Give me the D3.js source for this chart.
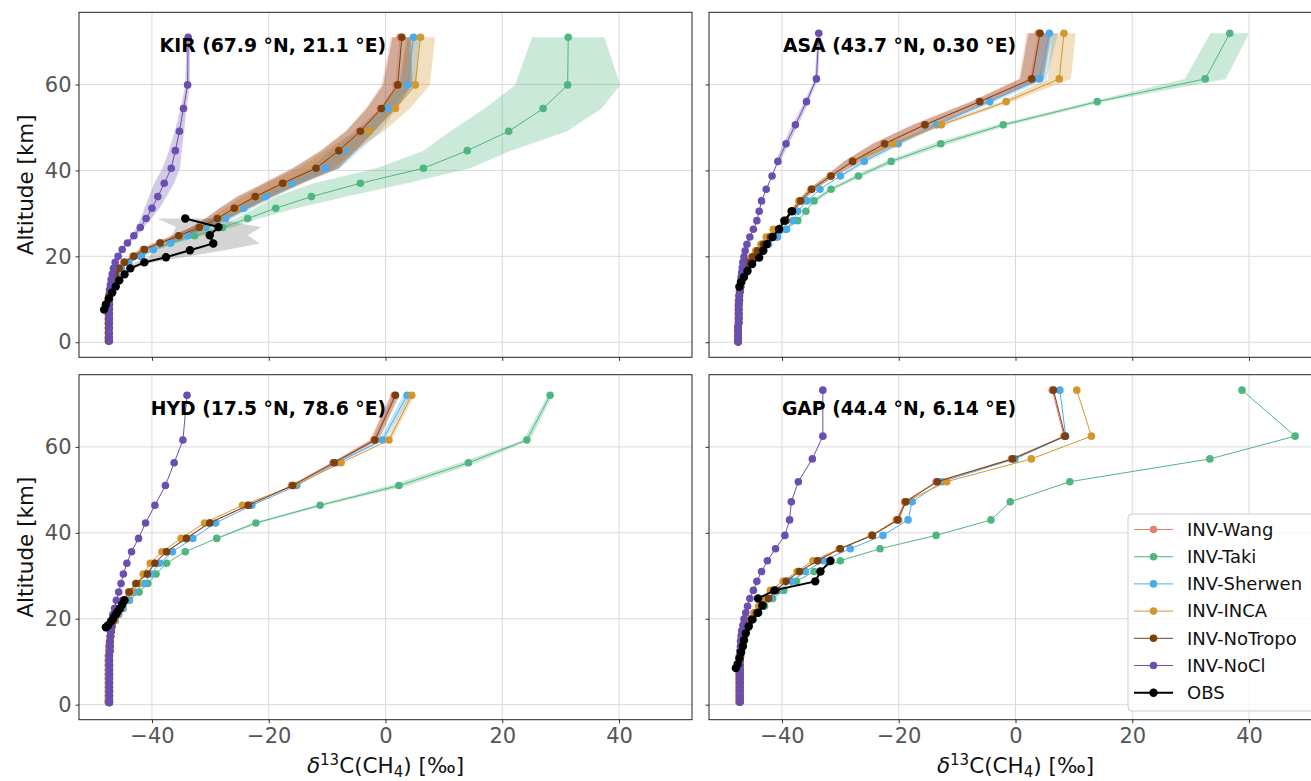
<!DOCTYPE html>
<html>
<head>
<meta charset="utf-8">
<script src="https://cdn.jsdelivr.net/npm/d3@7"></script>
<style>
  body { margin: 0; background: #fff; }
  svg text { font-family: "DejaVu Sans", sans-serif; }
</style>
</head>
<body>
<div class="chart"></div>
<script>
// ---------------- data ----------------
var modelNames = ["INV-Wang", "INV-Taki", "INV-Sherwen", "INV-INCA", "INV-NoTropo", "INV-NoCl"];
var modelColors = ["#e8806e", "#4fb67f", "#4aabef", "#d4962f", "#7a4010", "#6a4eb0"];
var xTicks = [-40, -20, 0, 20, 40];
var yTicks = [0, 20, 40, 60];

// KIR
var kirAlt = [71.0, 59.9, 54.4, 49.1, 44.6, 40.5, 37.0, 33.9, 31.2, 28.8, 26.7, 24.8, 23.1, 21.6, 20.0, 18.6, 17.2, 15.9, 14.6, 13.4, 12.2, 11.0, 9.9, 8.8, 7.7, 6.6, 5.5, 4.4, 3.3, 2.2, 1.1, 0.3];
var kirWang = [2.5, 1.8, -0.9, -4.5, -8.2, -12.1, -17.8, -22.5, -26.0, -28.9, -32.0, -35.5, -38.7, -41.4, -43.2, -44.8, -45.7, -46.4, -46.8, -47.1, -47.3, -47.4, -47.5, -47.5, -47.5, -47.5, -47.5, -47.5, -47.5, -47.5, -47.5, -47.5];
var kirTaki = [31.3, 31.2, 27.0, 21.1, 14.0, 6.5, -4.3, -12.7, -18.8, -23.6, -27.9, -32.7, -36.8, -39.8, -42.0, -44.0, -45.3, -46.1, -46.6, -46.9, -47.1, -47.2, -47.3, -47.3, -47.4, -47.4, -47.4, -47.4, -47.4, -47.4, -47.4, -47.4];
var kirSherwen = [4.8, 3.8, 0.4, -2.8, -7.0, -10.3, -16.0, -20.6, -24.3, -27.4, -30.8, -33.9, -36.9, -39.8, -41.8, -44.0, -45.3, -46.1, -46.6, -46.9, -47.1, -47.2, -47.3, -47.3, -47.4, -47.4, -47.4, -47.4, -47.4, -47.4, -47.4, -47.4];
var kirInca = [6.0, 5.1, 1.7, -2.8, -7.8, -11.9, -17.3, -22.0, -25.5, -28.6, -31.7, -35.2, -38.5, -41.5, -43.2, -44.8, -45.7, -46.3, -46.8, -47.0, -47.2, -47.3, -47.3, -47.4, -47.4, -47.4, -47.4, -47.4, -47.4, -47.4, -47.4, -47.4];
var kirNoTropo = [2.8, 2.1, -0.7, -4.3, -8.0, -11.9, -17.6, -22.3, -25.9, -28.8, -31.9, -35.4, -38.6, -41.3, -43.1, -44.7, -45.6, -46.3, -46.8, -47.0, -47.2, -47.3, -47.3, -47.4, -47.4, -47.4, -47.4, -47.4, -47.4, -47.4, -47.4, -47.4];
var kirNoCl = [-33.8, -33.9, -34.6, -35.3, -36.0, -36.7, -37.9, -39.0, -40.0, -41.0, -42.0, -43.1, -44.2, -45.1, -45.8, -46.3, -46.6, -46.8, -47.0, -47.1, -47.2, -47.2, -47.3, -47.3, -47.3, -47.3, -47.3, -47.3, -47.3, -47.3, -47.3, -47.3];
var kirWangSd = [1.6, 2.5, 2.5, 2.4, 3.0, 3.9, 3.2, 3.0, 2.5, 2.0, 1.5, 1.2, 1.0, 0.8, 0.6, 0.4];
var kirTakiSd = [6.2, 9.0, 10.0, 10.0, 7.5, 8.0, 8.0, 6.0, 3.5, 2.0, 1.5, 1.2, 1.0, 0.8, 0.5];
var kirSherwenSd = [1.0, 1.5, 1.5, 2.0, 2.5, 2.5, 2.0, 1.8, 1.5, 1.2, 1.0, 0.8, 0.6, 0.5];
var kirIncaSd = [2.5, 2.5, 2.5, 2.5, 2.5, 3.0, 3.0, 2.5, 2.0, 1.5, 1.2, 1.0, 0.8, 0.6, 0.4];
var kirNoTropoSd = [1.6, 2.5, 2.5, 2.4, 3.0, 3.9, 3.2, 3.0, 2.5, 2.0, 1.5, 1.2, 1.0, 0.8, 0.6, 0.4];
var kirNoClSd = [0.3, 0.4, 0.5, 0.8, 1.1, 1.5, 1.7, 1.5, 1.3, 0.9, 0.6, 0.5, 0.4];
var kirObsAlt = [28.8, 26.8, 24.9, 23.0, 21.4, 19.8, 18.6, 17.2, 15.8, 14.4, 13.0, 11.6, 10.2, 8.8, 7.6];
var kirObs = [-34.3, -28.6, -30.1, -29.5, -33.5, -37.6, -41.3, -43.7, -44.7, -45.6, -46.2, -46.8, -47.4, -47.9, -48.2];
var kirObsSd = [4.8, 7.3, 6.5, 8.0, 6.0, 3.0, 1.5, 0.8, 0.5, 0.3];

// ASA
var asaAlt = [71.9, 61.3, 56.0, 50.6, 46.2, 42.1, 38.7, 35.6, 32.9, 30.5, 28.3, 26.3, 24.5, 22.8, 21.3, 19.9, 18.6, 17.4, 16.2, 15.1, 14.0, 12.9, 11.8, 10.8, 9.7, 8.7, 7.7, 6.6, 5.6, 4.6, 3.6, 2.6, 1.6, 0.6, 0.1];
var asaWang = [3.9, 2.6, -6.3, -15.7, -22.6, -28.0, -31.7, -35.0, -36.9, -38.3, -39.4, -40.6, -42.1, -43.3, -44.3, -45.1, -45.7, -46.2, -46.6, -46.9, -47.1, -47.2, -47.3, -47.4, -47.5, -47.5, -47.5, -47.5, -47.5, -47.5, -47.6, -47.6, -47.6, -47.6, -47.6];
var asaTaki = [36.7, 32.5, 14.0, -2.1, -12.8, -21.3, -26.9, -31.6, -34.5, -35.9, -37.3, -39.4, -40.8, -42.5, -43.6, -44.6, -45.3, -45.9, -46.3, -46.7, -46.9, -47.1, -47.2, -47.3, -47.3, -47.4, -47.4, -47.4, -47.4, -47.4, -47.5, -47.5, -47.5, -47.5, -47.5];
var asaSherwen = [5.8, 4.1, -4.4, -13.5, -20.1, -25.9, -30.0, -33.5, -35.7, -37.3, -38.1, -39.2, -40.8, -42.3, -43.5, -44.5, -45.3, -45.9, -46.3, -46.7, -46.9, -47.1, -47.2, -47.3, -47.3, -47.4, -47.4, -47.4, -47.4, -47.4, -47.5, -47.5, -47.5, -47.5, -47.5];
var asaInca = [8.3, 7.5, -1.6, -12.7, -20.9, -27.9, -31.6, -35.0, -37.1, -38.5, -39.6, -41.5, -42.7, -43.6, -44.5, -45.2, -45.7, -46.1, -46.5, -46.8, -47.0, -47.1, -47.2, -47.3, -47.3, -47.4, -47.4, -47.4, -47.4, -47.4, -47.5, -47.5, -47.5, -47.5, -47.5];
var asaNoTropo = [4.2, 2.8, -6.1, -15.5, -22.4, -27.9, -31.6, -34.9, -36.8, -38.2, -39.3, -40.5, -42.0, -43.2, -44.2, -45.0, -45.6, -46.1, -46.5, -46.8, -47.0, -47.1, -47.2, -47.3, -47.3, -47.4, -47.4, -47.4, -47.4, -47.4, -47.5, -47.5, -47.5, -47.5, -47.5];
var asaNoCl = [-33.7, -34.1, -35.8, -37.7, -39.3, -40.7, -41.7, -42.7, -43.5, -43.9, -44.3, -44.9, -45.5, -46.0, -46.3, -46.5, -46.7, -46.8, -46.9, -47.0, -47.1, -47.1, -47.2, -47.3, -47.3, -47.4, -47.4, -47.4, -47.4, -47.4, -47.5, -47.5, -47.5, -47.5, -47.5];
var asaWangSd = [2.0, 2.0, 1.5, 2.0, 2.0, 1.5, 0.8, 0.6, 0.5, 0.4];
var asaTakiSd = [3.3, 3.5, 1.2, 1.2, 1.5, 1.0, 0.8, 0.6, 0.5];
var asaSherwenSd = [1.5, 1.2, 0.8, 0.8, 0.8, 0.6, 0.5];
var asaIncaSd = [2.0, 2.0, 1.0, 0.8, 0.6, 0.5];
var asaNoTropoSd = [2.0, 2.0, 1.5, 2.0, 2.0, 1.5, 0.8, 0.6, 0.5, 0.4];
var asaNoClSd = [0.2, 0.3, 0.4, 0.5, 0.5, 0.4];
var asaObsAlt = [30.5, 28.3, 26.3, 24.5, 22.8, 21.3, 19.7, 18.2, 16.6, 15.2, 14.0, 12.9];
var asaObs = [-38.3, -39.6, -40.5, -41.6, -42.6, -43.2, -43.9, -45.1, -45.9, -46.5, -47.0, -47.3];
var asaObsSd = [];

// HYD
var hydAlt = [72.0, 61.6, 56.3, 51.0, 46.4, 42.3, 38.7, 35.6, 32.9, 30.4, 28.2, 26.2, 24.3, 22.4, 21.0, 19.6, 18.3, 17.1, 15.9, 14.7, 13.6, 12.5, 11.4, 10.3, 9.2, 8.1, 7.1, 6.1, 5.1, 4.1, 3.1, 2.1, 1.1, 0.5];
var hydWang = [1.5, -2.0, -9.0, -16.1, -23.6, -30.2, -34.2, -37.6, -39.6, -40.9, -42.8, -44.0, -45.0, -45.6, -46.2, -46.6, -46.9, -47.1, -47.2, -47.3, -47.4, -47.4, -47.5, -47.5, -47.5, -47.5, -47.5, -47.5, -47.5, -47.5, -47.5, -47.5, -47.5, -47.5];
var hydTaki = [28.2, 24.2, 14.2, 2.3, -11.2, -22.2, -28.9, -34.3, -37.5, -39.3, -40.7, -42.2, -43.9, -45.0, -45.9, -46.4, -46.8, -47.0, -47.1, -47.2, -47.2, -47.3, -47.3, -47.3, -47.3, -47.3, -47.3, -47.3, -47.3, -47.3, -47.3, -47.3, -47.3, -47.3];
var hydSherwen = [3.7, -0.5, -8.3, -15.2, -22.9, -29.1, -33.0, -36.5, -38.7, -40.2, -41.3, -43.0, -43.9, -45.0, -45.7, -46.3, -46.8, -47.0, -47.1, -47.2, -47.2, -47.3, -47.3, -47.3, -47.3, -47.3, -47.3, -47.3, -47.3, -47.3, -47.3, -47.3, -47.3, -47.3];
var hydInca = [4.5, 0.6, -7.6, -15.6, -24.5, -31.0, -35.0, -38.3, -40.3, -41.5, -42.3, -43.5, -44.5, -45.3, -45.9, -46.4, -46.8, -47.0, -47.1, -47.2, -47.2, -47.3, -47.3, -47.3, -47.3, -47.3, -47.3, -47.3, -47.3, -47.3, -47.3, -47.3, -47.3, -47.3];
var hydNoTropo = [1.7, -1.8, -8.8, -15.9, -23.5, -30.1, -34.1, -37.5, -39.5, -40.8, -42.7, -43.9, -44.9, -45.5, -46.1, -46.6, -46.9, -47.0, -47.1, -47.2, -47.2, -47.2, -47.3, -47.3, -47.3, -47.3, -47.3, -47.3, -47.3, -47.3, -47.3, -47.3, -47.3, -47.3];
var hydNoCl = [-34.0, -34.7, -36.2, -37.7, -39.5, -41.1, -42.3, -43.5, -44.3, -44.9, -45.3, -45.7, -46.1, -46.4, -46.7, -46.9, -47.0, -47.1, -47.1, -47.2, -47.2, -47.2, -47.3, -47.3, -47.3, -47.3, -47.3, -47.3, -47.3, -47.3, -47.3, -47.3, -47.3, -47.3];
var hydWangSd = [0.7, 0.7, 0.4, 0.3];
var hydTakiSd = [0.4, 0.6, 1.5, 1.6, 0.8, 0.6, 0.4];
var hydSherwenSd = [0.7, 0.5, 0.4];
var hydIncaSd = [0.5, 0.4];
var hydNoTropoSd = [0.7, 0.7, 0.4, 0.3];
var hydNoClSd = [];
var hydObsAlt = [24.3, 23.3, 22.4, 21.6, 21.0, 20.2, 19.4, 18.5, 18.0];
var hydObs = [-44.7, -45.1, -45.5, -45.9, -46.2, -46.6, -47.0, -47.5, -47.9];
var hydObsSd = [];

// GAP
var gapAlt = [73.2, 62.5, 57.2, 51.9, 47.2, 43.0, 39.4, 36.3, 33.5, 31.0, 28.7, 26.6, 24.7, 22.9, 21.4, 19.9, 18.5, 17.2, 16.0, 14.8, 13.6, 12.5, 11.4, 10.3, 9.2, 8.1, 7.1, 6.1, 5.1, 4.1, 3.1, 2.1, 1.1, 0.6];
var gapWang = [6.3, 8.3, -0.7, -13.6, -19.0, -20.4, -24.7, -30.2, -34.0, -37.1, -39.4, -41.1, -42.4, -43.6, -44.5, -45.3, -45.9, -46.4, -46.7, -46.9, -47.1, -47.2, -47.3, -47.3, -47.4, -47.4, -47.4, -47.4, -47.4, -47.4, -47.4, -47.4, -47.4, -47.4];
var gapTaki = [38.8, 47.9, 33.3, 9.3, -0.9, -4.2, -13.6, -23.2, -30.0, -34.5, -37.5, -39.7, -41.6, -43.0, -44.0, -44.9, -45.6, -46.1, -46.5, -46.8, -47.0, -47.1, -47.2, -47.2, -47.2, -47.2, -47.2, -47.2, -47.2, -47.2, -47.2, -47.2, -47.2, -47.2];
var gapSherwen = [7.6, 8.6, -0.1, -12.6, -17.7, -18.4, -22.7, -28.3, -32.9, -36.0, -38.3, -40.6, -42.0, -43.3, -44.3, -45.1, -45.7, -46.2, -46.6, -46.8, -47.0, -47.1, -47.1, -47.2, -47.2, -47.2, -47.2, -47.2, -47.2, -47.2, -47.2, -47.2, -47.2, -47.2];
var gapInca = [10.5, 13.0, 2.7, -11.8, -18.8, -20.0, -24.6, -30.1, -34.7, -37.4, -39.8, -42.0, -43.2, -44.0, -44.8, -45.4, -45.9, -46.3, -46.6, -46.8, -47.0, -47.1, -47.1, -47.2, -47.2, -47.2, -47.2, -47.2, -47.2, -47.2, -47.2, -47.2, -47.2, -47.2];
var gapNoTropo = [6.5, 8.5, -0.5, -13.4, -18.8, -20.2, -24.5, -30.0, -33.9, -37.0, -39.3, -41.0, -42.3, -43.5, -44.4, -45.2, -45.8, -46.3, -46.6, -46.8, -47.0, -47.1, -47.1, -47.2, -47.2, -47.2, -47.2, -47.2, -47.2, -47.2, -47.2, -47.2, -47.2, -47.2];
var gapNoCl = [-33.0, -33.0, -34.8, -37.2, -38.4, -38.7, -39.5, -41.1, -42.5, -43.5, -44.3, -44.9, -45.5, -45.9, -46.2, -46.5, -46.7, -46.9, -47.0, -47.1, -47.1, -47.2, -47.2, -47.2, -47.2, -47.2, -47.2, -47.2, -47.2, -47.2, -47.2, -47.2, -47.2, -47.2];
var gapObsAlt = [33.5, 31.0, 28.7, 26.6, 24.7, 23.1, 21.4, 19.8, 18.2, 16.6, 15.0, 13.6, 12.2, 10.8, 9.4, 8.5];
var gapObs = [-31.7, -33.4, -34.3, -41.3, -44.1, -43.3, -44.1, -45.1, -45.7, -46.2, -46.5, -46.7, -47.0, -47.3, -47.6, -47.9];
var gapObsSd = [];

var stations = [
  { label: "KIR (67.9 \u00B0N, 21.1 \u00B0E)", col: 0, row: 0, alt: kirAlt,
    values: [kirWang, kirTaki, kirSherwen, kirInca, kirNoTropo, kirNoCl],
    spreads: [kirWangSd, kirTakiSd, kirSherwenSd, kirIncaSd, kirNoTropoSd, kirNoClSd],
    obsAlt: kirObsAlt, obs: kirObs, obsSd: kirObsSd },
  { label: "ASA (43.7 \u00B0N, 0.30 \u00B0E)", col: 1, row: 0, alt: asaAlt,
    values: [asaWang, asaTaki, asaSherwen, asaInca, asaNoTropo, asaNoCl],
    spreads: [asaWangSd, asaTakiSd, asaSherwenSd, asaIncaSd, asaNoTropoSd, asaNoClSd],
    obsAlt: asaObsAlt, obs: asaObs, obsSd: asaObsSd },
  { label: "HYD (17.5 \u00B0N, 78.6 \u00B0E)", col: 0, row: 1, alt: hydAlt,
    values: [hydWang, hydTaki, hydSherwen, hydInca, hydNoTropo, hydNoCl],
    spreads: [hydWangSd, hydTakiSd, hydSherwenSd, hydIncaSd, hydNoTropoSd, hydNoClSd],
    obsAlt: hydObsAlt, obs: hydObs, obsSd: hydObsSd },
  { label: "GAP (44.4 \u00B0N, 6.14 \u00B0E)", col: 1, row: 1, alt: gapAlt,
    values: [gapWang, gapTaki, gapSherwen, gapInca, gapNoTropo, gapNoCl],
    spreads: [[], [], [], [], [], []],
    obsAlt: gapObsAlt, obs: gapObs, obsSd: gapObsSd }
];

// ---------------- layout ----------------
var svgWidth = 1311;
var svgHeight = 781;
var panelWidth = 613;
var panelHeight = 345;
var panelLeft = [79, 709];
var panelTop = [12.3, 374.7];

var svg = d3.select(".chart")
  .append("svg")
  .attr("width", svgWidth)
  .attr("height", svgHeight);

var xScale = d3.scaleLinear().domain([-52.5, 52.5]).range([0, panelWidth]);
var yScale = d3.scaleLinear().domain([-3.5, 76.8]).range([panelHeight, 0]);

var lineGen = d3.line()
  .defined(d => d.v !== undefined)
  .x(d => xScale(d.v))
  .y(d => yScale(d.alt));

var bandGen = d3.area()
  .y(d => yScale(d.alt))
  .x0(d => xScale(d.v - d.s))
  .x1(d => xScale(d.v + d.s));

svg.append("defs").append("clipPath")
  .attr("id", "plotClip")
  .append("rect")
  .attr("width", panelWidth)
  .attr("height", panelHeight);

stations.forEach(function(st) {
  var g = svg.append("g")
    .attr("transform", `translate(${panelLeft[st.col]}, ${panelTop[st.row]})`);

  // grid
  g.append("g").selectAll("line")
    .data(xTicks).enter().append("line")
    .attr("x1", d => xScale(d)).attr("x2", d => xScale(d))
    .attr("y1", 0).attr("y2", panelHeight)
    .attr("stroke", "#dadada").attr("stroke-width", 1);
  g.append("g").selectAll("line")
    .data(yTicks).enter().append("line")
    .attr("y1", d => yScale(d)).attr("y2", d => yScale(d))
    .attr("x1", 0).attr("x2", panelWidth)
    .attr("stroke", "#dadada").attr("stroke-width", 1);

  var plot = g.append("g").attr("clip-path", "url(#plotClip)");

  // uncertainty bands first
  modelNames.forEach(function(name, m) {
    var band = st.spreads[m].map((s, k) => ({ alt: st.alt[k], v: st.values[m][k], s: s }));
    if (band.length > 1) {
      plot.append("path").datum(band)
        .attr("d", bandGen)
        .attr("fill", modelColors[m])
        .attr("fill-opacity", 0.3);
    }
  });
  if (st.obsSd.length > 1) {
    var obsBand = st.obsSd.map((s, k) => ({ alt: st.obsAlt[k], v: st.obs[k], s: s }));
    plot.append("path").datum(obsBand)
      .attr("d", bandGen)
      .attr("fill", "#000")
      .attr("fill-opacity", 0.17);
  }

  // model profiles
  modelNames.forEach(function(name, m) {
    var pts = st.alt.map((a, k) => ({ alt: a, v: st.values[m][k] }));
    plot.append("path").datum(pts)
      .attr("d", lineGen)
      .attr("fill", "none")
      .attr("stroke", modelColors[m])
      .attr("stroke-width", 1);
    plot.append("g").selectAll("circle")
      .data(pts.filter(d => d.v !== undefined)).enter().append("circle")
      .attr("cx", d => xScale(d.v))
      .attr("cy", d => yScale(d.alt))
      .attr("r", 3.8)
      .attr("fill", modelColors[m]);
  });

  // observations
  var obsPts = st.obsAlt.map((a, k) => ({ alt: a, v: st.obs[k] }));
  plot.append("path").datum(obsPts)
    .attr("d", lineGen)
    .attr("fill", "none")
    .attr("stroke", "#000")
    .attr("stroke-width", 2);
  plot.append("g").selectAll("circle")
    .data(obsPts).enter().append("circle")
    .attr("cx", d => xScale(d.v))
    .attr("cy", d => yScale(d.alt))
    .attr("r", 4.2)
    .attr("fill", "#000");

  // axes
  var bottomAxis = d3.axisBottom(xScale).tickValues(xTicks).tickSize(3.5).tickPadding(5);
  if (st.row === 0) bottomAxis.tickFormat("");
  var xAxis = g.append("g")
    .attr("transform", `translate(0, ${panelHeight})`)
    .call(bottomAxis);

  var leftAxis = d3.axisLeft(yScale).tickValues(yTicks).tickSize(3.5).tickPadding(4);
  if (st.col === 1) leftAxis.tickFormat("");
  var yAxis = g.append("g").call(leftAxis);

  [xAxis, yAxis].forEach(function(ax) {
    ax.select(".domain").remove();
    ax.selectAll(".tick line").attr("stroke", "#333");
    ax.selectAll(".tick text")
      .attr("fill", "#555")
      .style("font-size", "21px")
      .style("font-family", "DejaVu Sans, sans-serif");
  });

  // frame
  g.append("rect")
    .attr("width", panelWidth)
    .attr("height", panelHeight)
    .attr("fill", "none")
    .attr("stroke", "#222")
    .attr("stroke-width", 1);

  // station label
  g.append("text")
    .attr("x", xScale(0.1))
    .attr("y", yScale(67.5))
    .attr("text-anchor", "end")
    .style("font-size", "18.8px")
    .style("font-weight", "bold")
    .attr("fill", "#000")
    .text(st.label);

  // axis titles
  if (st.col === 0) {
    g.append("text")
      .attr("transform", "rotate(-90)")
      .attr("x", -panelHeight / 2)
      .attr("y", 25 - panelLeft[0])
      .attr("dy", "0.35em")
      .attr("text-anchor", "middle")
      .style("font-size", "21.5px")
      .attr("fill", "#111")
      .text("Altitude [km]");
  }
  if (st.row === 1) {
    var xl = g.append("text")
      .attr("x", panelWidth / 2)
      .attr("y", panelHeight + 53)
      .attr("text-anchor", "middle")
      .style("font-size", "21.5px")
      .attr("fill", "#111");
    xl.append("tspan").style("font-style", "italic").text("\u03B4");
    xl.append("tspan").attr("dy", -8).style("font-size", "15px").text("13");
    xl.append("tspan").attr("dy", 8).text("C(CH");
    xl.append("tspan").attr("dy", 4).style("font-size", "15px").text("4");
    xl.append("tspan").attr("dy", -4).text(") [\u2030]");
  }
});

// ---------------- legend (bottom-right panel) ----------------
var legendNames = modelNames.concat(["OBS"]);
var legendColors = modelColors.concat(["#000"]);
var legend = svg.append("g").attr("transform", "translate(1128, 514)");

legend.append("rect")
  .attr("width", 188)
  .attr("height", 197)
  .attr("rx", 4)
  .attr("fill", "#fff")
  .attr("fill-opacity", 0.8)
  .attr("stroke", "#cccccc");

var rows = legend.selectAll("g.row")
  .data(legendNames).enter().append("g")
  .attr("transform", (d, i) => `translate(0, ${15.5 + i * 27.2})`);

rows.append("line")
  .attr("x1", 6).attr("x2", 45)
  .attr("stroke", (d, i) => legendColors[i])
  .attr("stroke-width", (d, i) => i === 6 ? 2 : 1);
rows.append("circle")
  .attr("cx", 25.5)
  .attr("r", (d, i) => i === 6 ? 4.2 : 3.8)
  .attr("fill", (d, i) => legendColors[i]);
rows.append("text")
  .attr("x", 59)
  .attr("dy", "0.35em")
  .style("font-size", "18px")
  .attr("fill", "#111")
  .text(d => d);
</script>
</body>
</html>
